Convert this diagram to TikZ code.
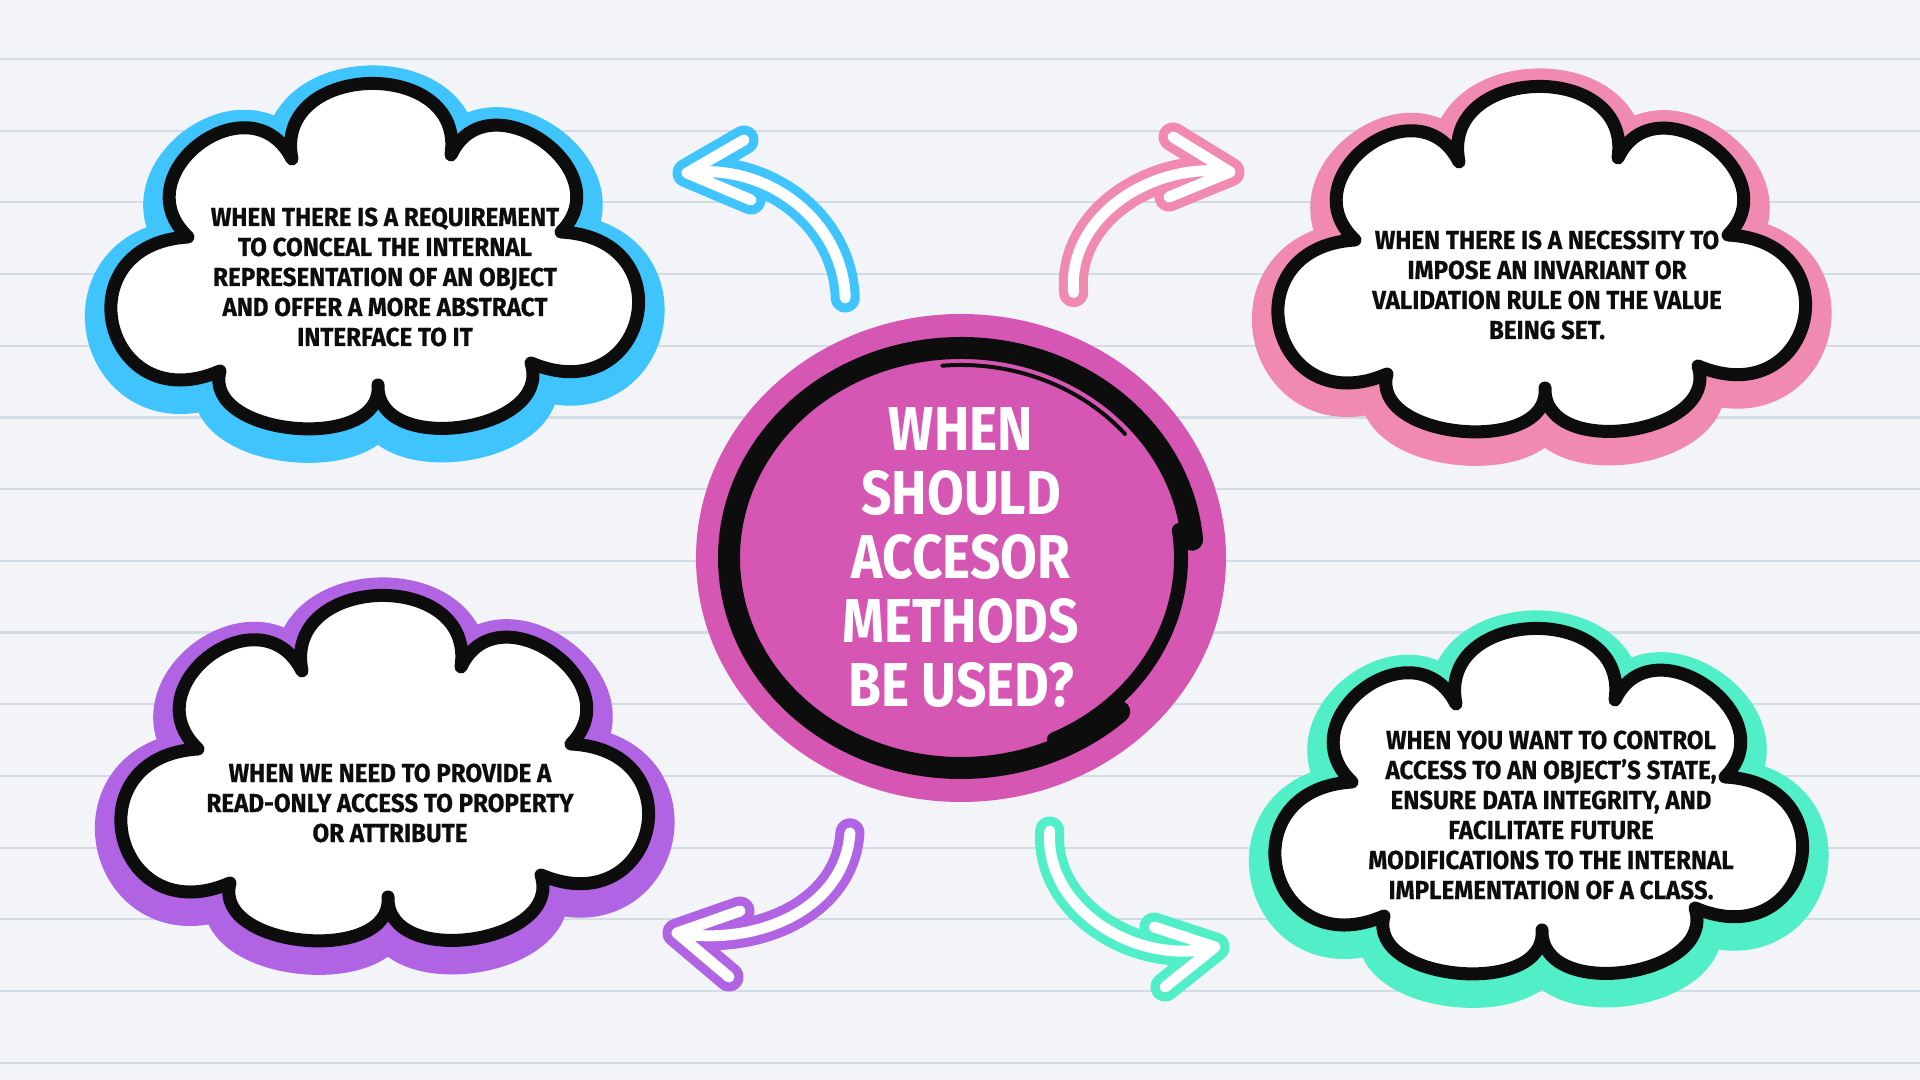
\documentclass[tikz,border=0pt]{standalone}
\usepackage{fontspec}
\usepackage{xcolor}
\usepackage{tikz}
\usetikzlibrary{calc,shapes.geometric}
\newfontfamily\sketchfont{Fira Sans}[FakeStretch=0.86]
\newfontfamily\cloudfont{Fira Sans}[FakeStretch=0.93,FakeBold=0.5]
\definecolor{paper}{HTML}{F2F4F7}
\definecolor{ruleblue}{HTML}{D3DBE5}
\definecolor{ink}{HTML}{0D0D0D}
\definecolor{skyblue}{HTML}{3FC4FD}
\definecolor{rosepink}{HTML}{F08AB0}
\definecolor{lilac}{HTML}{B063E3}
\definecolor{aqua}{HTML}{50EFC8}
\definecolor{hubpink}{HTML}{D657B3}
\tikzset{
  every node/.style={text=ink},
  ruleline/.style={draw=ruleblue,line width=1.1pt},
  cloudpath/.style={insert path={(-190,20) to[bend left=100,looseness=1.8] (-86,98)
      to[bend left=100,looseness=1.6] (73,102) to[bend left=100,looseness=1.65] (183,25)
      to[bend left=100,looseness=2.4] (153,-106) to[bend left=100,looseness=1.2] (0,-128)
      to[bend left=100,looseness=1.1] (-158,-114) to[bend left=100,looseness=2.35] (-190,20) -- cycle}},
  halo/.style={draw=#1,fill=#1,line width=26pt,line join=round},
  cloudbody/.style={draw=ink,fill=white,line width=6.5pt,line join=round},
  cloudtext/.style={font=\cloudfont\bfseries\fontsize{13}{15}\selectfont,align=center,inner sep=0pt},
  hubnode/.style={ellipse,fill=hubpink,minimum width=265pt,minimum height=244pt,inner sep=0pt,
      align=center,text=white,font=\sketchfont\bfseries\fontsize{31}{32}\selectfont},
  ring/.style={draw=ink,line width=11pt,line cap=round},
  sketcharrow/.style={draw=#1,line width=4.5pt,double=white,double distance=5.5pt,line cap=round,line join=round}
}
\begin{document}
\begin{tikzpicture}[x=0.5pt,y=0.5pt]
  \useasboundingbox (0,0) rectangle (1920,1080);
  \fill[paper] (0,0) rectangle (1920,1080);
  \foreach \k in {0,...,14}
    \draw[ruleline] (0,{1021-71.7*\k}) -- (1920,{1021-71.7*\k});

  % clouds
  \draw[halo=skyblue,shift={(378,815)},cloudpath];
  \draw[cloudbody,shift={(378,823)},cloudpath];
  \draw[halo=rosepink,shift={(1545,812)},cloudpath];
  \draw[cloudbody,shift={(1545,820)},cloudpath];
  \draw[halo=lilac,shift={(388,303)},cloudpath];
  \draw[cloudbody,shift={(388,311)},cloudpath];
  \draw[halo=aqua,shift={(1542,270)},cloudpath];
  \draw[cloudbody,shift={(1542,278)},cloudpath];

  \node[cloudtext] (conceal) at (385,803) {WHEN THERE IS A REQUIREMENT\\TO CONCEAL THE INTERNAL\\REPRESENTATION OF AN OBJECT\\AND OFFER A MORE ABSTRACT\\INTERFACE TO IT};
  \node[cloudtext] (invariant) at (1547,795) {WHEN THERE IS A NECESSITY TO\\IMPOSE AN INVARIANT OR\\VALIDATION RULE ON THE VALUE\\BEING SET.};
  \node[cloudtext] (readonly) at (390,277) {WHEN WE NEED TO PROVIDE A\\READ-ONLY ACCESS TO PROPERTY\\OR ATTRIBUTE};
  \node[cloudtext] (control) at (1551,265) {WHEN YOU WANT TO CONTROL\\ACCESS TO AN OBJECT’S STATE,\\ENSURE DATA INTEGRITY, AND\\FACILITATE FUTURE\\MODIFICATIONS TO THE INTERNAL\\IMPLEMENTATION OF A CLASS.};

  % centre
  \node[hubnode] (hub) at (961,522) {WHEN\\SHOULD\\ACCESOR\\METHODS\\BE USED?};
  \draw[ring] ($(hub.center)+(5:232 and 210)$) arc[start angle=5,end angle=313,x radius=232,y radius=210];
  \draw[ring,line width=7pt] ($(hub.center)+(8:220 and 200)$) arc[start angle=8,end angle=-65,x radius=220,y radius=200];
  \draw[ring,line width=2pt] ($(hub.center)+(95:214 and 193)$) arc[start angle=95,end angle=40,x radius=214,y radius=193];

  % arrows
  \coordinate (bluetip) at (687,907);
  \coordinate (pinktip) at (1230,908);
  \coordinate (lilactip) at (677,147);
  \coordinate (aquatip) at (1215,133);
  \draw[sketcharrow=skyblue] ($(hub.center)!1.15!(hub.114)$) to[out=92,in=8] (bluetip)
    ($(bluetip)+(57,33)$) -- (bluetip) -- ($(bluetip)+(64,-27)$);
  \draw[sketcharrow=rosepink] ($(hub.center)!1.166!(hub.67)$) to[out=95,in=172] (pinktip)
    ($(pinktip)+(-57,35)$) -- (pinktip) -- ($(pinktip)+(-61,-25)$);
  \draw[sketcharrow=lilac] ($(hub.center)!1.2!(hub.248)$) to[out=266,in=350] (lilactip)
    ($(lilactip)+(63,22)$) -- (lilactip) -- ($(lilactip)+(52,-44)$);
  \draw[sketcharrow=aqua] ($(hub.center)!1.166!(hub.288.5)$) to[out=266,in=195] (aquatip)
    ($(aquatip)+(-61,20)$) -- (aquatip) -- ($(aquatip)+(-50,-40)$);
\end{tikzpicture}
\end{document}
